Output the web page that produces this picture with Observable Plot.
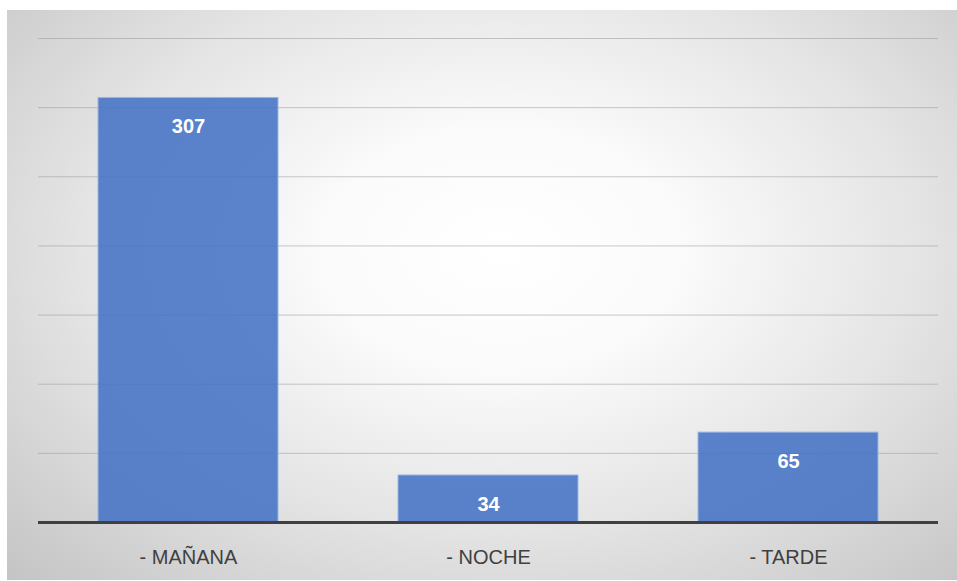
<!DOCTYPE html>
<html>
<head>
<meta charset="utf-8">
<script src="https://cdn.jsdelivr.net/npm/d3@7"></script>
<script src="https://cdn.jsdelivr.net/npm/@observablehq/plot@0.6"></script>
<style>
  html, body { margin: 0; padding: 0; background: #fff; }
  #frame {
    position: absolute; left: 7px; top: 10px; width: 950px; height: 570px;
    background: radial-gradient(ellipse farthest-corner at 52% 42%, #ffffff 0%, #fbfbfb 25%, #e4e4e4 60%, #c4c4c4 100%);
  }
  #frame svg { background: transparent !important; display: block; }
</style>
</head>
<body>
<div id="frame"></div>
<script>
const categories = ["- MAÑANA", "- NOCHE", "- TARDE"];
const values = [307, 34, 65];
const gridTicks = [50, 100, 150, 200, 250, 300, 350];

const data = categories.map((c, i) => ({category: c, value: values[i]}));

const chart = Plot.plot({
  width: 950,
  height: 570,
  marginTop: 28,
  marginBottom: 58,
  marginLeft: 31,
  marginRight: 19,
  style: {background: "transparent", fontFamily: "'Liberation Sans', Arial, sans-serif"},
  x: {domain: categories, paddingInner: 0.4, paddingOuter: 0.2, label: null},
  y: {domain: [0, 350], axis: null},
  marks: [
    Plot.ruleY(gridTicks, {stroke: "#9a9a9a", strokeOpacity: 0.55, strokeWidth: 1}),
    Plot.barY(data, {x: "category", y: "value", fill: "#4472C4", fillOpacity: 0.87, stroke: "#9db5e0", strokeWidth: 1}),
    Plot.ruleY([0], {stroke: "#404040", strokeWidth: 3}),
    Plot.text(data, {x: "category", y: "value", text: d => String(d.value), dy: 29, fill: "white", fontWeight: "bold", fontSize: 20, lineAnchor: "middle"}),
    Plot.axisX({tickSize: 0, tickPadding: 27, fontSize: 20, color: "#404040", label: null})
  ]
});
document.getElementById("frame").appendChild(chart);
</script>
</body>
</html>
